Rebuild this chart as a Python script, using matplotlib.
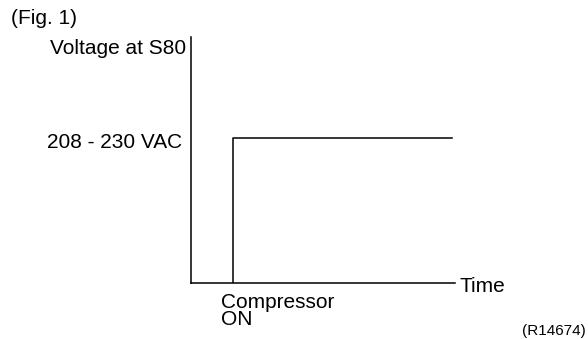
import matplotlib
matplotlib.use("Agg")
import matplotlib.pyplot as plt

plt.rcParams['font.family'] = ['Liberation Sans', 'DejaVu Sans']

# step signal: voltage at S80 vs time
time = [1.6, 1.6, 9.9]
voltage = [0, 0.59, 0.59]
level_label = "208 - 230 VAC"
y_label = "Voltage at S80"
x_label = "Time"
event_label = "Compressor\nON"

fig = plt.figure(figsize=(5.88, 3.39), dpi=100)
ax = fig.add_axes([191/588, 1 - 283/339, (455-191)/588, (283-37)/339])
ax.plot(time, voltage, color='black', lw=1.1)
ax.set_xlim(0, 10)
ax.set_ylim(0, 1)
for s in ['top', 'right']:
    ax.spines[s].set_visible(False)
for s in ['left', 'bottom']:
    ax.spines[s].set_linewidth(1.1)
ax.set_xticks([])
ax.set_yticks([])

fs = 15
fig.text(11/588, 1 - 19/339, "(Fig. 1)", fontsize=fs, va='center', ha='left')
fig.text(186/588, 1 - 49/339, y_label, fontsize=fs, va='center', ha='right')
ax.annotate(level_label, xy=(0, voltage[1]), xytext=(-9, -5), textcoords='offset pixels',
            fontsize=fs, va='center', ha='right')
ax.annotate(x_label, xy=(1, 0), xycoords='axes fraction', xytext=(4, -3),
            textcoords='offset pixels', fontsize=fs, va='center', ha='left')
ax.annotate(event_label, xy=(time[0], 0), xytext=(-12, -10), textcoords='offset pixels',
            fontsize=fs, va='top', ha='left', linespacing=0.88)
fig.text(522/588, 1 - 331/339, "(R14674)", fontsize=11, va='center', ha='left')

fig.savefig("out.png", dpi=100)
